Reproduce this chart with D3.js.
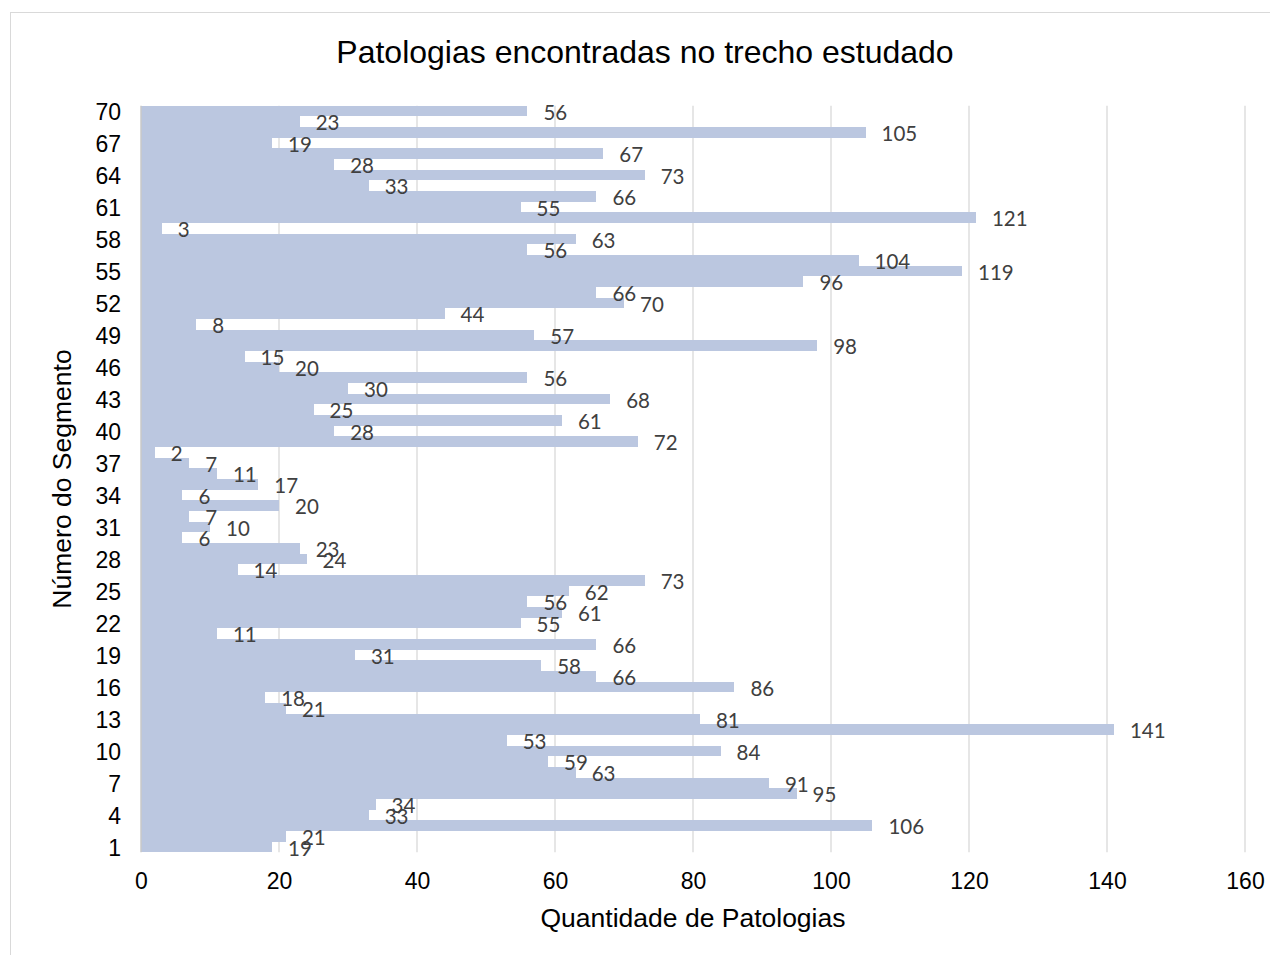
<!DOCTYPE html>
<html>
<head>
<meta charset="utf-8">
<script src="https://cdn.jsdelivr.net/npm/d3@7"></script>
<style>
  body { margin: 0; background: #fff; }
  svg { display: block; }
  .arial { font-family: "Liberation Sans", Arial, Helvetica, sans-serif; fill: #000; }
</style>
</head>
<body>
<svg id="chart" width="1270" height="955"></svg>
<script>
// segment numbers 1..70 and number of pathologies found in each
const segments = [
  1, 2, 3, 4, 5, 6, 7, 8, 9, 10,
  11, 12, 13, 14, 15, 16, 17, 18, 19, 20,
  21, 22, 23, 24, 25, 26, 27, 28, 29, 30,
  31, 32, 33, 34, 35, 36, 37, 38, 39, 40,
  41, 42, 43, 44, 45, 46, 47, 48, 49, 50,
  51, 52, 53, 54, 55, 56, 57, 58, 59, 60,
  61, 62, 63, 64, 65, 66, 67, 68, 69, 70
];
const counts = [
  19, 21, 106, 33, 34, 95, 91, 63, 59, 84,
  53, 141, 81, 21, 18, 86, 66, 58, 31, 66,
  11, 55, 61, 56, 62, 73, 14, 24, 23, 6,
  10, 7, 20, 6, 17, 11, 7, 2, 72, 28,
  61, 25, 68, 30, 56, 20, 15, 98, 57, 8,
  44, 70, 66, 96, 119, 104, 56, 63, 3, 121,
  55, 66, 33, 73, 28, 67, 19, 105, 23, 56
];
const yTickLabels = d3.range(1, 71, 3);
const xTicks = [0, 20, 40, 60, 80, 100, 120, 140, 160];

const data = segments.map((s, i) => ({ seg: s, n: counts[i] }));

const svg = d3.select('#chart');
const m = { left: 141, right: 1245, top: 105.7, bottom: 852.3 };

// chart frame
svg.append('rect')
  .attr('x', 10.5).attr('y', 12.5)
  .attr('width', 1280).attr('height', 960)
  .attr('fill', 'none')
  .attr('stroke', '#d9d9d9');

const x = d3.scaleLinear().domain([0, 160]).range([m.left, m.right]);
const y = d3.scaleBand()
  .domain(segments)
  .range([m.bottom, m.top])
  .padding(0);

// vertical gridlines
svg.append('g')
  .selectAll('line')
  .data(xTicks.slice(1))
  .enter().append('line')
  .attr('x1', d => x(d)).attr('x2', d => x(d))
  .attr('y1', m.top).attr('y2', m.bottom)
  .attr('stroke', '#d9d9d9')
  .attr('stroke-width', 1.3);

// bars
svg.append('g')
  .selectAll('rect')
  .data(data)
  .enter().append('rect')
  .attr('x', x(0))
  .attr('y', d => y(d.seg))
  .attr('width', d => x(d.n) - x(0))
  .attr('height', y.bandwidth())
  .attr('shape-rendering', 'crispEdges')
  .attr('fill', '#bbc7e0');

// y axis line
svg.append('line')
  .attr('x1', x(0)).attr('x2', x(0))
  .attr('y1', m.top).attr('y2', m.bottom)
  .attr('stroke', '#c8c8c8')
  .attr('stroke-width', 1.5);

// data labels
svg.append('g')
  .selectAll('text')
  .data(data)
  .enter().append('text')
  .attr('x', d => x(d.n) + 16)
  .attr('y', d => y(d.seg) + y.bandwidth() / 2)
  .attr('dy', '0.42em')
  .style('font-family', 'Lato, Carlito, Calibri, sans-serif')
  .style('font-size', '20.5px')
  .style('fill', '#404040')
  .text(d => d.n);

// x tick labels
const xAxis = d3.axisBottom(x).tickValues(xTicks).tickSize(0).tickPadding(0);
const gx = svg.append('g')
  .attr('transform', `translate(0, ${m.bottom})`)
  .call(xAxis);
gx.attr('font-family', null).attr('font-size', null);
gx.select('.domain').remove();
gx.selectAll('text')
  .attr('class', 'arial')
  .attr('y', 29)
  .attr('dy', '0.35em')
  .style('font-size', '23px');

// y tick labels
const yAxis = d3.axisLeft(y).tickValues(yTickLabels).tickSize(0).tickPadding(20);
const gy = svg.append('g')
  .attr('transform', `translate(${m.left}, 0)`)
  .call(yAxis);
gy.attr('font-family', null).attr('font-size', null);
gy.select('.domain').remove();
gy.selectAll('text')
  .attr('class', 'arial')
  .attr('dy', '0.4em')
  .style('font-size', '23px');

// title
svg.append('text')
  .attr('class', 'arial')
  .attr('x', 645)
  .attr('y', 63)
  .style('text-anchor', 'middle')
  .style('font-size', '32px')
  .text('Patologias encontradas no trecho estudado');

// axis titles
svg.append('text')
  .attr('class', 'arial')
  .attr('x', (m.left + m.right) / 2)
  .attr('y', 927)
  .style('text-anchor', 'middle')
  .style('font-size', '26.5px')
  .text('Quantidade de Patologias');

svg.append('text')
  .attr('class', 'arial')
  .attr('transform', 'rotate(-90)')
  .attr('x', -(m.top + m.bottom) / 2)
  .attr('y', 71)
  .style('text-anchor', 'middle')
  .style('font-size', '26.5px')
  .text('Número do Segmento');
</script>
</body>
</html>
